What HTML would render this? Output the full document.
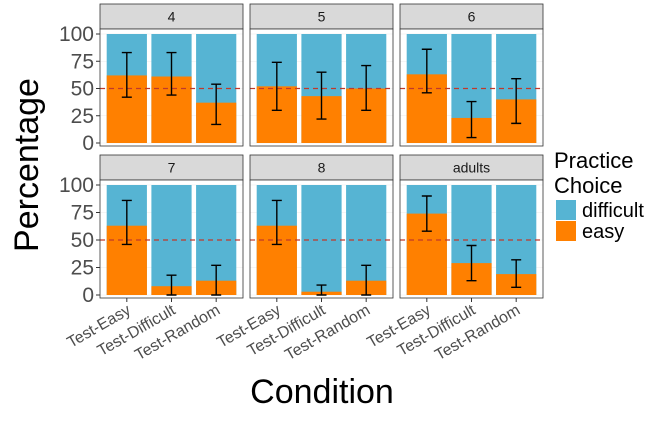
<!DOCTYPE html>
<html><head><meta charset="utf-8"><style>
body{margin:0;background:#fff;}
svg{display:block;font-family:"Liberation Sans",sans-serif;}
</style></head><body>
<svg id="chart" width="661" height="424"></svg>
<script>
const panels=["4","5","6","7","8","adults"];
const conditions=["Test-Easy","Test-Difficult","Test-Random"];
const easyPct=[[62,61,37],[52,43,50],[63,23,40],[63,8,13],[63,3,13],[74,29,19]];
const errLow=[[42,44,17],[30,22,30],[46,5,18],[46,0,0],[46,0,0],[58,13,7]];
const errHigh=[[83,83,54],[74,65,71],[86,38,59],[86,18,27],[86,9,27],[90,45,32]];
const yTicks=[0,25,50,75,100];
const NS="http://www.w3.org/2000/svg";
const svg=document.getElementById('chart');
function mk(t,a,p){const e=document.createElementNS(NS,t);for(const k in a)e.setAttribute(k,a[k]);(p||svg).appendChild(e);return e;}
const colX=[100,250,400],PW=143;
const rows=[{top:4,strip:25,y0:143,y100:34,bottom:146},{top:155,strip:25,y0:295,y100:185,bottom:298}];
panels.forEach((p,i)=>{
 const r=rows[Math.floor(i/3)],x0=colX[i%3];
 const g=mk('g',{});
 
 
 const yS=v=>r.y0+(r.y100-r.y0)*v/100;
 const xS=k=>x0+PW*(k+1-0.4)/3.2;
 const st=mk('rect',{x:x0,y:r.top,width:PW,height:r.strip,fill:'#d9d9d9',stroke:'#333','stroke-width':0.8},g);
 
 const tt=mk('text',{x:x0+PW/2,y:r.top+r.strip/2+5,'text-anchor':'middle','font-size':14,fill:'#1a1a1a'},g);tt.textContent=p;
 mk('rect',{x:x0,y:r.top+r.strip,width:PW,height:r.bottom-r.top-r.strip,fill:'#fff'},g);
 yTicks.forEach(v=>mk('line',{x1:x0,x2:x0+PW,y1:yS(v),y2:yS(v),stroke:'#ebebeb','stroke-width':0.6},g));
 conditions.forEach((c,k)=>{
  const cx=xS(k),bw=PW*0.9/3.2;
  const d=mk('rect',{x:cx-bw/2,y:yS(100),width:bw,height:yS(0)-yS(100),fill:'#56B4D3'},g);
  
  const e=mk('rect',{x:cx-bw/2,y:yS(easyPct[i][k]),width:bw,height:yS(0)-yS(easyPct[i][k]),fill:'#FF8000'},g);
  
 });
 mk('line',{x1:x0,x2:x0+PW,y1:yS(50),y2:yS(50),stroke:'#c0392b','stroke-width':1.2,'stroke-dasharray':'5,4'},g);
 conditions.forEach((c,k)=>{
  const cx=xS(k),lo=yS(errLow[i][k]),hi=yS(errHigh[i][k]);
  const eb=mk('path',{d:`M${cx},${lo}V${hi}M${cx-5},${lo}H${cx+5}M${cx-5},${hi}H${cx+5}`,stroke:'#000','stroke-width':1.4,fill:'none'},g);
  
 });
 mk('rect',{x:x0,y:r.top+r.strip,width:PW,height:r.bottom-r.top-r.strip,fill:'none',stroke:'#333','stroke-width':0.8},g);
 if(i%3==0){yTicks.forEach(v=>{mk('line',{x1:x0-4,x2:x0,y1:yS(v),y2:yS(v),stroke:'#333'},g);
  const t=mk('text',{x:x0-6,y:yS(v)+7,'text-anchor':'end','font-size':21,fill:'#4d4d4d'},g);t.textContent=v;});}
 if(i>=3){conditions.forEach((c,k)=>{const cx=xS(k);mk('line',{x1:cx,x2:cx,y1:r.bottom,y2:r.bottom+4,stroke:'#333'},g);
  const t=mk('text',{x:cx+5,y:r.bottom+15,'text-anchor':'end','font-size':16,fill:'#4d4d4d',transform:`rotate(-30 ${cx+5} ${r.bottom+15})`},g);t.textContent=c;
  });}
});
const yl=mk('text',{x:38,y:165,'text-anchor':'middle','font-size':34,fill:'#000',transform:'rotate(-90 38 165)'});yl.textContent='Percentage';

const xl=mk('text',{x:322,y:403,'text-anchor':'middle','font-size':34,fill:'#000'});xl.textContent='Condition';

const lg=mk('g',{});
mk('text',{x:554,y:168,'font-size':22,fill:'#000'},lg).textContent='Practice';
mk('text',{x:554,y:193,'font-size':22,fill:'#000'},lg).textContent='Choice';
mk('rect',{x:556,y:200,width:20,height:20,fill:'#56B4D3'},lg);
mk('rect',{x:556,y:221,width:20,height:20,fill:'#FF8000'},lg);
mk('text',{x:582,y:217,'font-size':20,fill:'#000'},lg).textContent='difficult';
mk('text',{x:582,y:238,'font-size':20,fill:'#000'},lg).textContent='easy';
</script>
</body></html>
